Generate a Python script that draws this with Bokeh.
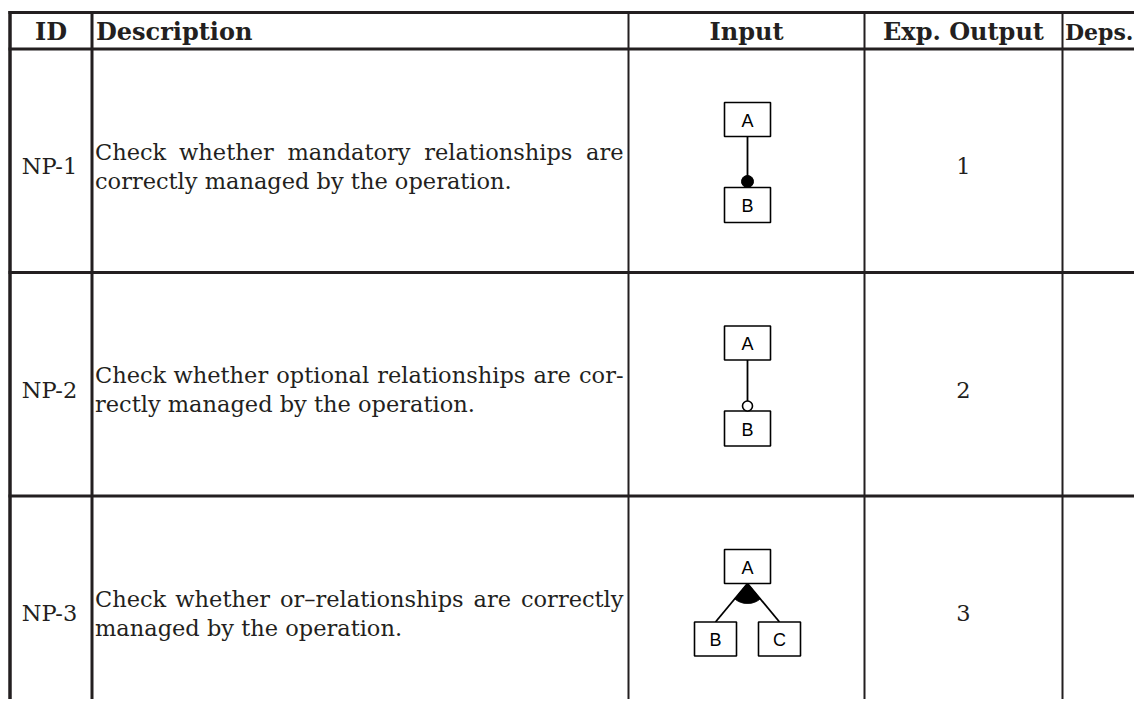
import math
from bokeh.plotting import figure
from bokeh.models import Range1d
from bokeh.core.properties import value
from bokeh.embed import file_html
from bokeh.resources import INLINE

# ---------------- data ----------------
headers = ["ID", "Description", "Input", "Exp. Output", "Deps."]
test_ids = ["NP-1", "NP-2", "NP-3"]
desc_first = [
    "Check whether mandatory relationships are",
    "Check whether optional relationships are cor-",
    "Check whether or\u2013relationships are correctly",
]
desc_second = [
    "correctly managed by the operation.",
    "rectly managed by the operation.",
    "managed by the operation.",
]
exp_outputs = ["1", "2", "3"]
relation_kinds = ["mandatory", "optional", "or"]
parent_features = ["A", "A", "A"]
child_features = [["B"], ["B"], ["B", "C"]]

# ---------------- layout (pixels) ----------------
W, H = 1134, 699
INK = "#231f20"
col_x = [9.5, 91.5, 628, 864, 1062]
header_top, header_bot = 12, 48.5
row_h = 223.5
row_tops = [header_bot + i * row_h for i in range(len(test_ids))]

p = figure(width=W, height=H,
           x_range=Range1d(0, W), y_range=Range1d(H, 0),
           x_axis_type=None, y_axis_type=None,
           output_backend="svg", toolbar_location=None, min_border=0)
p.grid.visible = False
p.outline_line_color = None
p.background_fill_color = "white"
p.border_fill_color = "white"

# table rules
h_lines = [header_top, header_bot] + row_tops[1:] + [row_tops[-1] + row_h]
p.segment(x0=[col_x[0] - 1.5] * len(h_lines), x1=[W] * len(h_lines), y0=h_lines, y1=h_lines,
          line_color=INK, line_width=3)
v_widths = [3.5, 3, 2, 2, 2]
for cx, lw in zip(col_x, v_widths):
    p.segment(x0=[cx], x1=[cx], y0=[header_top - 1.5], y1=[H], line_color=INK, line_width=lw)

serif = value("DejaVu Serif")
sans = value("Liberation Sans")
FS_PX = 22.5
FS = f"{FS_PX}px"

# approximate DejaVu Serif advance widths (em) for line justification
TW = dict(a=.596, b=.640, c=.560, d=.640, e=.592, f=.370, g=.640, h=.644, i=.320, k=.604,
          l=.320, m=.948, n=.644, o=.602, p=.640, r=.478, s=.513, t=.402, w=.856, y=.565,
          C=.730)
TW.update({" ": .318, "-": .338, "\u2013": .5, ".": .318})


def word_w(word):
    return sum(TW.get(ch, .6) for ch in word) * FS_PX


def justify(line, x_left, x_right, y):
    words = line.split(" ")
    nat = [word_w(w) for w in words]
    gap = (x_right - x_left - sum(nat)) / (len(words) - 1)
    xs, cur = [], x_left
    for w in nat:
        xs.append(cur)
        cur += w + gap
    p.text(x=xs[:-1], y=[y] * (len(words) - 1), text=words[:-1], text_font=serif,
           text_font_size=FS, text_align="left", text_baseline="middle", text_color=INK)
    p.text(x=[x_right], y=[y], text=[words[-1]], text_font=serif, text_font_size=FS,
           text_align="right", text_baseline="middle", text_color=INK)


# header
hx = [(col_x[0] + col_x[1]) / 2, col_x[1] + 4, (col_x[2] + col_x[3]) / 2,
      (col_x[3] + col_x[4]) / 2, col_x[4] + 2.5]
halign = ["center", "left", "center", "center", "left"]
hsize = ["24px", "24px", "24px", "24px", "22px"]
hy = (header_top + header_bot) / 2 + 1
for t, x, a, s in zip(headers, hx, halign, hsize):
    p.text(x=[x], y=[hy], text=[t], text_font=serif, text_font_size=s,
           text_font_style="bold", text_align=a, text_baseline="middle", text_color=INK)

# rows
text_left = col_x[1] + 3
text_right = col_x[2] - 5
for i, top in enumerate(row_tops):
    cy = top + 117
    p.text(x=[(col_x[0] + col_x[1]) / 2 - 1.5], y=[cy], text=[test_ids[i]], text_font=serif,
           text_font_size=FS, text_align="center", text_baseline="middle", text_color=INK)
    justify(desc_first[i], text_left, text_right, cy - 14.5)
    p.text(x=[text_left], y=[cy + 14.5], text=[desc_second[i]], text_font=serif,
           text_font_size=FS, text_align="left", text_baseline="middle", text_color=INK)
    p.text(x=[(col_x[3] + col_x[4]) / 2], y=[cy], text=[exp_outputs[i]], text_font=serif,
           text_font_size=FS, text_align="center", text_baseline="middle", text_color=INK)

    # feature diagram
    px = (col_x[2] + col_x[3]) / 2 + 1
    a_top, a_h, a_w = top + 53.5, 34, 46
    a_bot = a_top + a_h
    p.quad(left=[px - a_w / 2], right=[px + a_w / 2], top=[a_top], bottom=[a_bot],
           fill_color="white", line_color="black", line_width=1.6)
    p.text(x=[px], y=[a_top + a_h / 2 + 1], text=[parent_features[i]], text_font=sans,
           text_font_size="18px", text_align="center", text_baseline="middle", text_color="black")
    kind = relation_kinds[i]
    kids = child_features[i]
    if kind in ("mandatory", "optional"):
        b_top, b_h = top + 138.5, 35
        dot_y = b_top - 6
        p.segment(x0=[px], x1=[px], y0=[a_bot], y1=[dot_y], line_color="black", line_width=1.8)
        p.quad(left=[px - a_w / 2], right=[px + a_w / 2], top=[b_top], bottom=[b_top + b_h],
               fill_color="white", line_color="black", line_width=1.6)
        p.text(x=[px], y=[b_top + b_h / 2 + 1], text=[kids[0]], text_font=sans,
               text_font_size="18px", text_align="center", text_baseline="middle", text_color="black")
        if kind == "mandatory":
            p.scatter(x=[px], y=[dot_y], size=12, marker="circle", fill_color="black",
                      line_color="black", line_width=1)
        else:
            p.scatter(x=[px], y=[dot_y + 1], size=10, marker="circle", fill_color="white",
                      line_color="black", line_width=1.6)
    else:
        c_top, c_h, c_w, dx = top + 126, 34, 42, 32
        kx = [px - dx + k * 2 * dx / (len(kids) - 1) for k in range(len(kids))]
        angs = []
        for x, name in zip(kx, kids):
            p.segment(x0=[px], x1=[x], y0=[a_bot], y1=[c_top], line_color="black", line_width=1.8)
            p.quad(left=[x - c_w / 2], right=[x + c_w / 2], top=[c_top], bottom=[c_top + c_h],
                   fill_color="white", line_color="black", line_width=1.6)
            p.text(x=[x], y=[c_top + c_h / 2 + 1], text=[name], text_font=sans,
                   text_font_size="18px", text_align="center", text_baseline="middle",
                   text_color="black")
            angs.append(math.atan2(c_top - a_bot, x - px))
        r = 20
        n = 24
        a0, a1 = min(angs), max(angs)
        wx = [px] + [px + r * math.cos(a0 + (a1 - a0) * k / n) for k in range(n + 1)]
        wy = [a_bot] + [a_bot + r * math.sin(a0 + (a1 - a0) * k / n) for k in range(n + 1)]
        p.patch(x=wx, y=wy, fill_color="black", line_color="black", line_width=1)

open("out.html", "w").write(file_html(p, INLINE))
